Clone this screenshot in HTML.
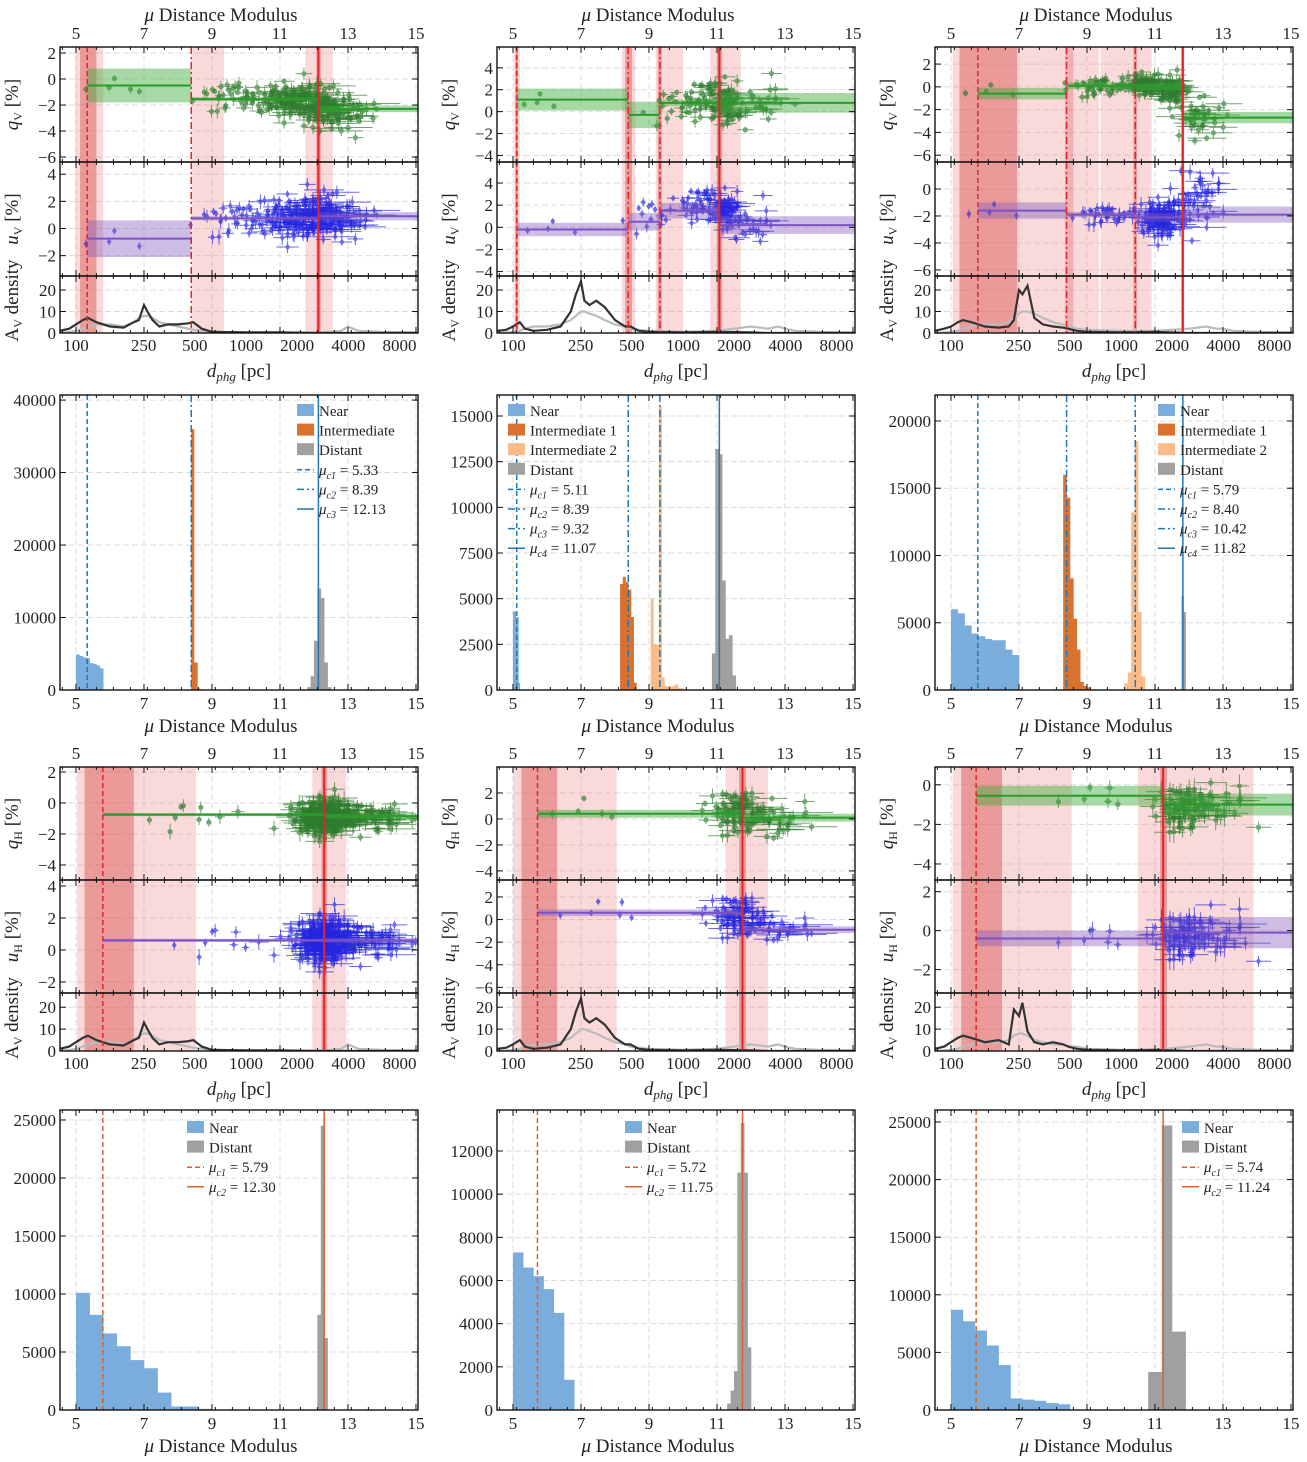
<!DOCTYPE html>
<html><head><meta charset="utf-8">
<style>
html,body{margin:0;padding:0;background:#fff;}
svg{display:block;font-family:"Liberation Serif",serif;}
</style></head>
<body>
<svg id="fig" width="1307" height="1462" viewBox="0 0 1307 1462" xmlns="http://www.w3.org/2000/svg"></svg>
<script>
// ---------- DATA ----------
const muTicks = [5,7,9,11,13,15];
const dTicks = [100,250,500,1000,2000,4000,8000];

const g1Lines = [[5.33,8.39,12.13],[5.11,8.39,9.32,11.07],[5.79,8.40,10.42,11.82]];
const g3Lines = [[5.79,12.30],[5.72,11.75],[5.74,11.24]];
const g1Bands = [
 [[4.98,5.8,'l'],[5.12,5.6,'d'],[8.39,9.35,'l'],[11.75,12.55,'l'],[12.07,12.2,'d']],
 [[5.03,5.2,'l'],[5.07,5.15,'d'],[8.2,8.6,'l'],[8.3,8.5,'d'],[9.2,10.0,'l'],[9.26,9.38,'d'],[10.8,11.7,'l'],[11.0,11.15,'d']],
 [[5.05,8.35,'l'],[5.25,6.95,'d'],[8.35,8.6,'d'],[8.6,9.35,'l'],[9.4,10.9,'l'],[10.37,10.47,'d'],[11.76,11.86,'d']]
];
const g3Bands = [
 [[5.03,8.53,'l'],[5.25,6.7,'d'],[11.95,12.95,'l'],[12.22,12.38,'d']],
 [[5.0,8.05,'l'],[5.25,6.3,'d'],[11.25,12.5,'l'],[11.65,11.85,'d']],
 [[5.05,8.55,'l'],[5.3,6.5,'d'],[10.5,13.9,'l'],[11.15,11.35,'d']]
];
const g1QFit = [
 [[5.33,8.39,-0.5,1.3],[8.39,12.13,-1.55,0.15],[12.13,15.06,-2.3,0.25]],
 [[5.11,8.39,1.1,1.0],[8.39,9.32,-0.3,1.2],[9.32,11.07,0.8,0.3],[11.07,15.06,0.8,0.9]],
 [[5.79,8.40,-0.6,0.5],[8.40,10.42,0.1,0.3],[10.42,11.82,0.0,0.3],[11.82,15.06,-2.7,0.5]]
];
const g1UFit = [
 [[5.33,8.39,-0.75,1.35],[8.39,12.13,0.75,0.15],[12.13,15.06,0.9,0.3]],
 [[5.11,8.39,-0.2,0.6],[8.39,9.32,0.5,0.8],[9.32,11.07,1.5,0.7],[11.07,15.06,0.2,0.8]],
 [[5.79,8.40,-1.6,0.6],[8.40,10.42,-1.9,0.2],[10.42,11.82,-2.1,0.3],[11.82,15.06,-1.9,0.6]]
];
const g3QFit = [
 [[5.79,12.30,-0.75,0.1],[12.30,15.06,-0.85,0.15]],
 [[5.72,11.75,0.4,0.3],[11.75,15.06,0.1,0.3]],
 [[5.74,11.24,-0.55,0.5],[11.24,15.06,-1.0,0.55]]
];
const g3UFit = [
 [[5.79,12.30,0.6,0.1],[12.30,15.06,0.6,0.15]],
 [[5.72,11.75,0.6,0.3],[11.75,15.06,-0.9,0.3]],
 [[5.74,11.24,-0.4,0.4],[11.24,15.06,-0.1,0.8]]
];
const g1QClouds = [
 [[6.5,0.9,-0.5,0.7,5],[9.5,0.7,-1.3,0.8,30],[11.3,0.8,-1.6,0.9,120],[12.3,0.5,-2.2,1.1,80],[13.2,0.5,-2.8,1.0,25]],
 [[6.0,0.5,1.0,0.8,4],[9.6,0.5,0.5,1.2,15],[10.6,0.5,1.0,1.3,40],[11.3,0.3,0.8,1.5,60],[12.3,0.6,0.8,1.2,25]],
 [[6.5,0.8,-0.3,0.6,4],[9.3,0.6,0.0,0.6,40],[10.7,0.4,0.2,0.7,80],[11.5,0.3,-0.3,0.8,60],[12.3,0.5,-2.6,1.3,40]]
];
const g1UClouds = [
 [[6.5,0.9,-0.8,0.8,4],[9.6,0.8,0.7,0.9,30],[11.4,0.8,0.8,1.1,130],[12.4,0.5,1.0,1.1,80],[13.2,0.5,0.6,0.8,20]],
 [[6.5,0.8,0.0,0.7,4],[9.0,0.5,1.2,1.2,15],[10.5,0.5,2.0,1.1,40],[11.3,0.3,1.5,1.3,60],[12.1,0.5,0.2,1.2,20]],
 [[6.6,0.8,-1.6,0.6,4],[9.5,0.6,-1.9,0.5,30],[11.2,0.5,-2.2,1.0,120],[12.3,0.5,-0.5,1.6,40]]
];
const g3QClouds = [
 [[8.5,1.0,-0.8,0.7,10],[12.3,0.6,-0.9,0.8,250],[13.8,0.7,-0.9,0.6,50]],
 [[7.5,1.0,0.8,1.0,5],[11.6,0.6,0.5,1.2,80],[12.8,0.8,0.0,1.0,30]],
 [[9.5,1.0,-0.6,0.6,6],[11.8,0.5,-1.2,0.8,70],[12.8,0.7,-1.0,0.7,30]]
];
const g3UClouds = [
 [[9.5,1.2,0.6,0.7,10],[12.3,0.6,0.6,1.0,250],[13.8,0.7,0.6,0.7,50]],
 [[8.0,1.2,0.8,1.0,6],[11.6,0.6,0.3,1.3,80],[12.8,0.8,-0.8,0.7,30]],
 [[9.5,1.0,-0.4,0.5,8],[11.8,0.5,-0.3,0.8,70],[12.8,0.7,-0.1,0.9,30]]
];
const densMu = [4.53,4.8,5.0,5.2,5.35,5.6,6.0,6.4,6.7,6.85,7.0,7.1,7.25,7.45,7.7,8.0,8.3,8.45,8.7,9.0,10.0,11.0,12.0,12.5,12.8,13.0,13.3,14.0,15.06];
const g1DensDark = [
 [1,2,4,6,7,5,3,2.5,5,6,13,10,6,3,4,4,4.5,5,2,0.5,0.3,0.3,0,0,0,0,0,0,0],
 [1,1.5,3,5,2,1,1.5,3,10,18,24,15,13,15,12,6,3,3,1,0.5,0.3,0.5,0.3,0,0,0,0,0,0],
 [1,2,3,5,6,5,3,2.5,3,6,20,18,22,7,4,3,2.5,2,1,0.5,0.3,0.5,0,0,0,0,0,0,0]
];
const g1DensLight = [
 [0,0.5,1,2,3,4,4,3,5,7,8,8,7,5,4,3,2,1.5,1,0.5,0.2,0.2,0.2,0.5,1,3,1,0.5,0.3],
 [0,0.3,0.5,1,2,3,3,4,6,8,10,10,9,8,6,4,3,2,1.5,1,0.5,1,3,2,3,2,1,0.5,0.3],
 [0,0.3,0.5,1,2,3,4,4,5,7,9,10,10,9,7,5,4,3,2,1.5,1,1,2,3,2,2,1,0.5,0.3]
];
const g3DensDark = [
 [1,2,4,6,7,5,3,2.5,5,6,13,10,6,3,4,4,4.5,5,2,0.5,0.3,0.3,0,0,0,0,0,0,0],
 [1,1.5,3,5,2,1,1.5,3,10,18,24,15,13,15,12,6,3,3,1,0.5,0.3,0.5,0.3,0,0,0,0,0,0],
 [1,2,4,6,7,6,4,5,3,19,16,22,9,4,3,4,3,2,1,0.5,0.3,0.5,0,0,0,0,0,0,0]
];
const g3DensLight = [
 [0,0.5,1,2,3,4,4,3,5,7,8,8,7,5,4,3,2,1.5,1,0.5,0.2,0.2,0.2,0.5,1,3,1,0.5,0.3],
 [0,0.3,0.5,1,2,3,3,4,6,8,10,10,9,8,6,4,3,2,1.5,1,0.5,1,3,2,3,2,1,0.5,0.3],
 [0,0.3,0.5,1,2,3,4,4,5,7,8,8,7,5,4,3,3,2,2,1,0.5,0.5,2,3,2,2,1,0.5,0.3]
];
const h2Near = [
 [[5.0,5.1,4900],[5.1,5.2,4700],[5.2,5.3,4500],[5.3,5.4,4400],[5.4,5.5,3700],[5.5,5.6,3600],[5.6,5.7,3400],[5.7,5.8,3000]],
 [[5.0,5.08,4300],[5.08,5.16,4000],[5.16,5.2,400]],
 [[5.0,5.2,6000],[5.2,5.4,5700],[5.4,5.6,4800],[5.6,5.8,4200],[5.8,6.0,4000],[6.0,6.2,3800],[6.2,6.4,3700],[6.4,6.6,3700],[6.6,6.8,3000],[6.8,7.0,2600]]
];
const h2Int1 = [
 [[8.39,8.47,36000],[8.47,8.57,3800],[8.57,8.65,200]],
 [[8.15,8.23,5800],[8.23,8.31,6200],[8.31,8.39,5900],[8.39,8.47,5500],[8.47,8.55,4000],[8.55,8.63,400]],
 [[8.3,8.4,16000],[8.4,8.5,14300],[8.5,8.6,8300],[8.6,8.7,5300],[8.7,8.8,3000],[8.8,8.9,600],[8.9,9.0,300],[9.0,9.1,200]]
];
const h2Int2 = [
 [],
 [[9.05,9.13,5000],[9.13,9.21,2500],[9.21,9.29,2500],[9.29,9.37,15500],[9.37,9.45,700],[9.45,9.55,200],[9.55,9.75,200],[9.75,9.85,300],[9.85,10.0,100]],
 [[10.1,10.2,500],[10.2,10.3,1300],[10.3,10.4,13200],[10.4,10.5,18500],[10.5,10.6,5800],[10.6,10.7,1000]]
];
const h2Far = [
 [[11.8,11.9,400],[11.9,12.0,1900],[12.0,12.1,6800],[12.1,12.2,14000],[12.2,12.3,12700],[12.3,12.4,3800],[12.4,12.5,400]],
 [[10.85,10.95,2000],[10.95,11.05,13200],[11.05,11.15,12900],[11.15,11.25,6000],[11.25,11.35,2800],[11.35,11.45,3000],[11.45,11.55,800]],
 [[11.78,11.84,7000],[11.84,11.9,5800]]
];
const h4Near = [
 [[5.0,5.4,10100],[5.4,5.8,8200],[5.8,6.2,6600],[6.2,6.6,5500],[6.6,7.0,4300],[7.0,7.4,3600],[7.4,7.8,1500],[7.8,8.2,300],[8.2,8.6,300],[8.6,9.0,100]],
 [[5.0,5.3,7300],[5.3,5.6,6600],[5.6,5.9,6200],[5.9,6.2,5600],[6.2,6.5,4500],[6.5,6.8,1400]],
 [[5.0,5.35,8700],[5.35,5.7,7700],[5.7,6.05,6900],[6.05,6.4,5600],[6.4,6.75,3900],[6.75,7.1,1000],[7.1,7.45,900],[7.45,7.8,800],[7.8,8.15,600],[8.15,8.5,500]]
];
const h4Far = [
 [[12.1,12.2,8200],[12.2,12.3,24500],[12.3,12.4,6200]],
 [[11.3,11.4,300],[11.4,11.5,900],[11.5,11.6,1800],[11.6,11.7,11000],[11.7,11.8,13300],[11.8,11.9,11000],[11.9,12.0,2900]],
 [[10.8,11.2,3300],[11.2,11.5,24700],[11.5,11.9,6800]]
];
const h2Ticks = [[0,10000,20000,30000,40000],[0,2500,5000,7500,10000,12500,15000],[0,5000,10000,15000,20000]];
const h4Ticks = [[0,5000,10000,15000,20000,25000],[0,2000,4000,6000,8000,10000,12000],[0,5000,10000,15000,20000,25000]];
const h2Max = [40700,16150,21930];
const h4Max = [25860,13900,26040];

// ---------- LAYOUT ----------
const svg = document.getElementById('fig');
const NS = 'http://www.w3.org/2000/svg';
const colX = [60,497,935], W = 358, MU0 = 4.53, MUPX = 34;
function mk(tag, attrs, parent){
  const e = document.createElementNS(NS, tag);
  for (const k in attrs) e.setAttribute(k, attrs[k]);
  (parent||svg).appendChild(e);
  return e;
}
function xs(c){ return mu => colX[c] + (mu - MU0) * MUPX; }
function ys(top, bot, vmax, vmin){ return v => top + (vmax - v) / (vmax - vmin) * (bot - top); }
function txt(parent, x, y, s, size, anchor, name){
  const t = mk('text', {x:x, y:y, 'font-size':size, 'text-anchor':anchor||'middle', fill:'#222'}, parent);
  t.innerHTML = s;
  
  
  return t;
}
const DASH = {dash:'5,3', dashdot:'7,3,2,3', solid:''};
function lineStyles(n){ return n===2 ? ['dash','solid'] : n===3 ? ['dash','dashdot','solid'] : ['dash','dashdot','dashdot','solid']; }

function frame(g, top, bot, c, yTicks, y){
  const x0 = colX[c], x = xs(c);
  for (const m of muTicks){ const l = mk('line',{x1:x(m),x2:x(m),y1:top,y2:bot,stroke:'#ddd','stroke-dasharray':'6,3','stroke-width':1},g);
      }
  for (const v of yTicks){ const l = mk('line',{x1:x0,x2:x0+W,y1:y(v),y2:y(v),stroke:'#ddd','stroke-dasharray':'6,3','stroke-width':1},g);
      }
}
function border(g, top, bot, c, yTicks, y, tickFmt){
  const x0 = colX[c], x = xs(c);
  const r = mk('rect',{x:x0,y:top,width:W,height:bot-top,fill:'none',stroke:'#111','stroke-width':1.4},g);
   
  for (const m of muTicks){ mk('line',{x1:x(m),x2:x(m),y1:bot,y2:bot-6,stroke:'#111'},g); mk('line',{x1:x(m),x2:x(m),y1:top,y2:top+6,stroke:'#111'},g); }
  for (let m=4.6; m<15.06; m+=0.5){ if (Math.abs(m - Math.round(m))<0.01 && Math.round(m)%2===1) continue;
    mk('line',{x1:x(m),x2:x(m),y1:bot,y2:bot-3,stroke:'#111'},g); mk('line',{x1:x(m),x2:x(m),y1:top,y2:top+3,stroke:'#111'},g); }
  for (const v of yTicks){ mk('line',{x1:x0,x2:x0+6,y1:y(v),y2:y(v),stroke:'#111'},g); mk('line',{x1:x0+W,x2:x0+W-6,y1:y(v),y2:y(v),stroke:'#111'},g);
    txt(g, x0-4, y(v)+6, tickFmt(v), 17, 'end', 'y-tick-label'); }
}
const fmtSigned = v => v<0 ? '−'+(-v) : ''+v;

function halton(i, b){ let f=1, r=0; while(i>0){ f/=b; r+=f*(i%b); i=Math.floor(i/b);} return r; }
function gauss(i, b1, b2){ const u1 = Math.max(halton(i,b1),1e-3), u2 = halton(i,b2); return Math.sqrt(-2*Math.log(u1))*Math.cos(2*Math.PI*u2); }

function scatterPanel(g, c, top, bot, vmax, vmin, ticks, bands, lines, fit, clouds, color, fitColor, bandColor, marker){
  const x = xs(c), y = ys(top, bot, vmax, vmin);
  frame(g, top, bot, c, ticks, y);
  const clip = 'clip'+c+'_'+top;
  const cp = mk('clipPath',{id:clip},g); mk('rect',{x:colX[c],y:top,width:W,height:bot-top},cp);
  const inner = mk('g',{'clip-path':'url(#'+clip+')'},g);
  for (const b of bands){ const r = mk('rect',{x:x(b[0]),y:top,width:x(b[1])-x(b[0]),height:bot-top,fill: b[2]==='l'?'rgba(232,120,120,0.28)':'rgba(214,60,60,0.40)'},inner);
      }
  let k = 1;
  for (const cl of clouds){
    for (let i=0;i<cl[4];i++,k++){
      const m = cl[0] + cl[1]*gauss(k,2,3)*0.7, v = cl[2] + cl[3]*gauss(k,5,7)*0.7;
      const ex = (0.08 + 0.5*halton(k,11)) * (m-8)/4 * MUPX, ev = (0.2+0.4*halton(k,13));
      const pg = mk('g',{opacity:0.68},inner);
       
      const px = x(m), py = y(v), eh = Math.abs(y(v+ev)-py);
      if (ex>1) mk('line',{x1:px-ex,x2:px+ex,y1:py,y2:py,stroke:color,'stroke-width':1},pg);
      mk('line',{x1:px,x2:px,y1:py-eh,y2:py+eh,stroke:color,'stroke-width':1},pg);
      if (marker==='o') mk('circle',{cx:px,cy:py,r:2.6,fill:color},pg);
      else mk('path',{d:`M${px} ${py-3.5}L${px+2.4} ${py}L${px} ${py+3.5}L${px-2.4} ${py}Z`,fill:color},pg);
    }
  }
  for (const f of fit){
    const r = mk('rect',{x:x(f[0]),y:y(f[2]+f[3]),width:x(f[1])-x(f[0]),height:Math.max(1.5,y(f[2]-f[3])-y(f[2]+f[3])),fill:bandColor},inner);
     
    const l = mk('line',{x1:x(f[0]),x2:x(f[1]),y1:y(f[2]),y2:y(f[2]),stroke:fitColor,'stroke-width':2},inner);
     
  }
  const st = lineStyles(lines.length);
  lines.forEach((m,i)=>{ const l = mk('line',{x1:x(m),x2:x(m),y1:top,y2:bot,stroke:'#e0262a','stroke-width':st[i]==='solid'?2:1.5,'stroke-dasharray':DASH[st[i]]},inner);
      });
  border(g, top, bot, c, ticks, y, fmtSigned);
}
function densityPanel(g, c, top, bot, bands, lines, dark, light){
  const x = xs(c), y = ys(top, bot, 26.5, 0);
  frame(g, top, bot, c, [0,10,20], y);
  const clip = 'clipd'+c+'_'+top;
  const cp = mk('clipPath',{id:clip},g); mk('rect',{x:colX[c],y:top,width:W,height:bot-top},cp);
  const inner = mk('g',{'clip-path':'url(#'+clip+')'},g);
  for (const b of bands){ const r = mk('rect',{x:x(b[0]),y:top,width:x(b[1])-x(b[0]),height:bot-top,fill: b[2]==='l'?'rgba(232,120,120,0.28)':'rgba(214,60,60,0.40)'},inner);
      }
  const pth = arr => densMu.map((m,i)=>(i?'L':'M')+x(m).toFixed(1)+' '+y(arr[i]).toFixed(1)).join('');
  const l1 = mk('path',{d:pth(light),fill:'none',stroke:'#bbb','stroke-width':2.2},inner);
   
  const l2 = mk('path',{d:pth(dark),fill:'none',stroke:'#333','stroke-width':2.2},inner);
   
  const st = lineStyles(lines.length);
  lines.forEach((m,i)=>{ const l = mk('line',{x1:x(m),x2:x(m),y1:top,y2:bot,stroke:'#e0262a','stroke-width':st[i]==='solid'?2:1.5,'stroke-dasharray':DASH[st[i]]},inner);
      });
  border(g, top, bot, c, [0,10,20], y, v=>''+v);
}
function group(c, top, mid, mid2, bot, qr, ur, qT, uT, bands, lines, qFit, uFit, qCl, uCl, dark, light, sub, showTitle){
  const g = mk('g',{});
  
  
  const x = xs(c);
  if (showTitle) txt(g, colX[c]+W/2-18, top-26, '<tspan font-style="italic">μ</tspan> Distance Modulus', 19, 'middle', 'top-x-axis-title');
  for (const m of muTicks) txt(g, x(m), top-8, ''+m, 17, 'middle', 'top-x-tick-label');
  scatterPanel(g, c, top, mid, qr[0], qr[1], qT, bands, lines, qFit, qCl, '#2e7d2e', '#2a9a2a', 'rgba(60,170,60,0.45)', 'o');
  scatterPanel(g, c, mid, mid2, ur[0], ur[1], uT, bands, lines, uFit, uCl, '#2525e0', '#7b52c8', 'rgba(130,90,190,0.40)', 'd');
  densityPanel(g, c, mid2, bot, bands, lines, dark, light);
  for (const d of dTicks){ const m = 5*Math.log10(d)-5; txt(g, x(m), bot+18, ''+d, 17, 'middle', 'distance-tick-label'); }
  txt(g, colX[c]+W/2, bot+44, '<tspan font-style="italic">d<tspan font-size="13" dy="4">phg</tspan></tspan><tspan dy="-4"> [pc]</tspan>', 19, 'middle', 'distance-axis-title');
  const lx = colX[c]-42;
  const yl = (yy, s, n) => { const t = txt(g, lx, yy, s, 19, 'middle', n); t.setAttribute('transform', `rotate(-90 ${lx} ${yy})`); };
  yl((top+mid)/2, '<tspan font-style="italic">q</tspan><tspan font-size="12" dy="4">'+sub+'</tspan><tspan dy="-4"> [%]</tspan>', 'q-axis-title');
  yl((mid+mid2)/2, '<tspan font-style="italic">u</tspan><tspan font-size="12" dy="4">'+sub+'</tspan><tspan dy="-4"> [%]</tspan>', 'u-axis-title');
  yl((mid2+bot)/2-4, 'A<tspan font-size="12" dy="4">V</tspan><tspan dy="-4"> density</tspan>', 'density-axis-title');
}
const g1Q = [[2.46,-6.38],[5.9,-4.6],[3.5,-6.6]], g1U = [[4.9,-3.5],[5.9,-4.4],[2.0,-6.45]];
const g1QT = [[2,0,-2,-4,-6],[4,2,0,-2,-4],[2,0,-2,-4,-6]], g1UT = [[4,2,0,-2],[4,2,0,-2,-4],[0,-2,-4,-6]];
const g3Q = [[2.32,-4.97],[4.0,-4.7],[0.9,-4.81]], g3U = [[4.375,-2.69],[3.5,-6.5],[2.6,-3.2]];
const g3QT = [[2,0,-2,-4],[2,0,-2,-4],[0,-2,-4]], g3UT = [[4,2,0,-2],[2,0,-2,-4,-6],[2,0,-2]];
for (let c=0;c<3;c++){
  group(c, 47, 162, 276, 333, g1Q[c], g1U[c], g1QT[c], g1UT[c], g1Bands[c], g1Lines[c], g1QFit[c], g1UFit[c], g1QClouds[c], g1UClouds[c], g1DensDark[c], g1DensLight[c], 'V', true);
  group(c, 767, 880, 993, 1051, g3Q[c], g3U[c], g3QT[c], g3UT[c], g3Bands[c], g3Lines[c], g3QFit[c], g3UFit[c], g3QClouds[c], g3UClouds[c], g3DensDark[c], g3DensLight[c], 'H', false);
}

// ---------- HISTOGRAMS ----------
const COL = {near:'#7aaddb', int1:'#d9722e', int2:'#f9bc88', far:'#a0a0a0'};
function hist(c, top, bot, vmax, ticks, series, lines, lineColor, legendX, legendY){
  const g = mk('g',{});
  
  
  const x = xs(c), y = ys(top, bot, vmax, 0);
  frame(g, top, bot, c, ticks, y);
  for (const s of series){
    for (const b of s.bins){ const r = mk('rect',{x:x(b[0]),y:y(b[2]),width:x(b[1])-x(b[0])+0.3,height:bot-y(b[2]),fill:s.color},g);
        }
  }
  const st = lineStyles(lines.length);
  lines.forEach((m,i)=>{ const l = mk('line',{x1:x(m),x2:x(m),y1:top,y2:bot,stroke:lineColor,'stroke-width':1.5,'stroke-dasharray':DASH[st[i]]},g);
      });
  border(g, top, bot, c, ticks, y, v=>''+v);
  for (const m of muTicks) txt(g, x(m), bot+19, ''+m, 17, 'middle', 'x-tick-label');
  txt(g, colX[c]+W/2-18, bot+42, '<tspan font-style="italic">μ</tspan> Distance Modulus', 19, 'middle', 'x-axis-title');
  const lg = mk('g',{},g);
  
  
  let ly = legendY;
  for (const s of series){
    const r = mk('rect',{x:legendX,y:ly-7,width:17,height:12,fill:s.color},lg);
     
    txt(lg, legendX+22, ly+5, s.label, 15, 'start', 'legend-entry');
    ly += 19.6;
  }
  lines.forEach((m,i)=>{
    const l = mk('line',{x1:legendX,x2:legendX+17,y1:ly,y2:ly,stroke:lineColor,'stroke-width':1.5,'stroke-dasharray':DASH[st[i]]},lg);
     
    txt(lg, legendX+22, ly+5, '<tspan font-style="italic">μ<tspan font-size="10" dy="4">c'+(i+1)+'</tspan></tspan><tspan dy="-4"> = '+m.toFixed(2)+'</tspan>', 15, 'start', 'legend-entry');
    ly += 19.6;
  });
}
const legend2X = [297,508,1158], legend4X = [187,625,1182];
for (let c=0;c<3;c++){
  const s2 = [{key:'near',label:'Near',color:COL.near,bins:h2Near[c]}];
  if (c===0) s2.push({key:'intermediate',label:'Intermediate',color:COL.int1,bins:h2Int1[c]});
  else { s2.push({key:'intermediate-1',label:'Intermediate 1',color:COL.int1,bins:h2Int1[c]}); s2.push({key:'intermediate-2',label:'Intermediate 2',color:COL.int2,bins:h2Int2[c]}); }
  s2.push({key:'distant',label:'Distant',color:COL.far,bins:h2Far[c]});
  hist(c, 395, 690, h2Max[c], h2Ticks[c], s2, g1Lines[c], '#1f77b4', legend2X[c], 411);
  const s4 = [{key:'near',label:'Near',color:COL.near,bins:h4Near[c]},{key:'distant',label:'Distant',color:COL.far,bins:h4Far[c]}];
  hist(c, 1110, 1410, h4Max[c], h4Ticks[c], s4, g3Lines[c], '#d9622b', legend4X[c], 1128);
}
</script>
</body></html>
